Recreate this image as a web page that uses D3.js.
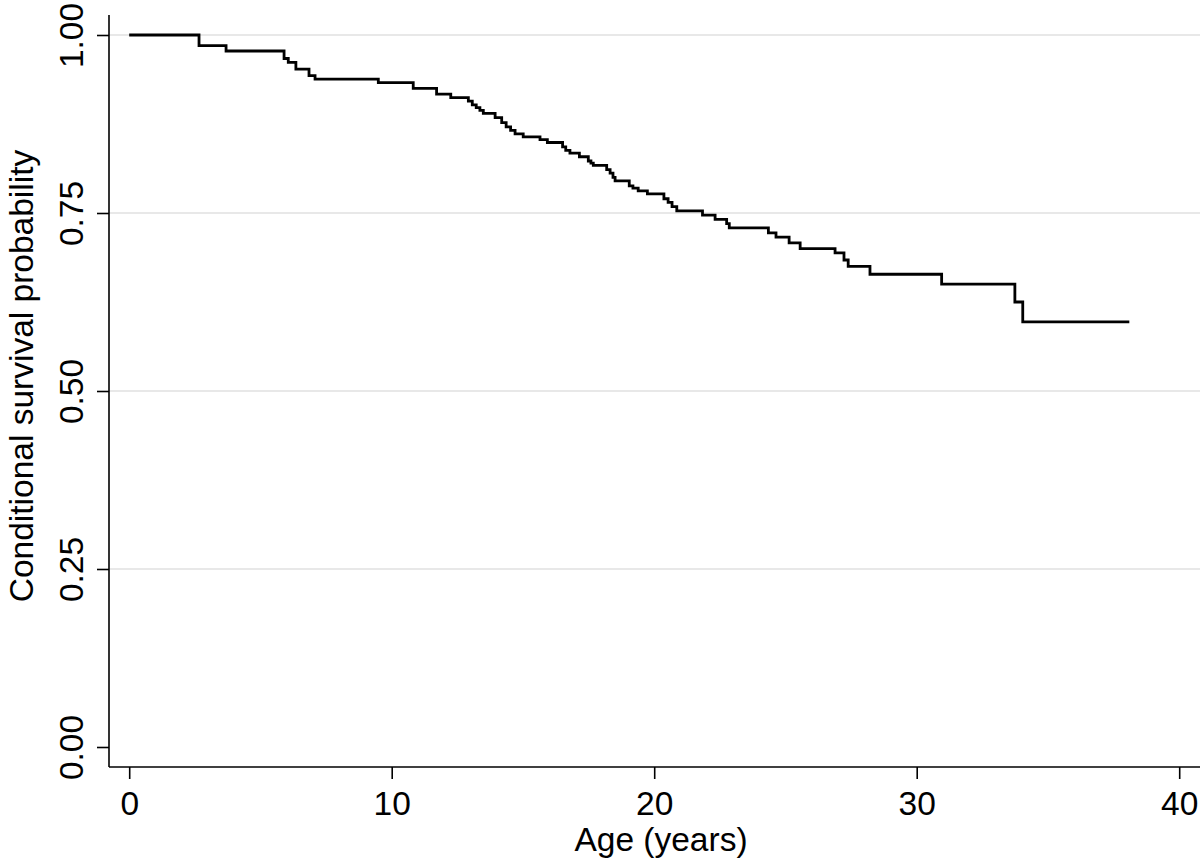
<!DOCTYPE html>
<html>
<head>
<meta charset="utf-8">
<script src="https://cdn.jsdelivr.net/npm/d3@7/dist/d3.min.js"></script>
<style>
  html, body { margin: 0; padding: 0; background: #fff; }
  svg { display: block; }
  text { font-family: "Liberation Sans", Arial, Helvetica, sans-serif; fill: #000; }
</style>
</head>
<body>
<svg id="chart" width="1200" height="861"></svg>
<script>
// Kaplan-Meier style step data (age in years, survival probability)
const ages = [0, 2.66, 3.69, 5.90, 6.06, 6.35, 6.85, 7.08, 9.49, 10.82, 11.71, 12.25,
  12.92, 13.07, 13.22, 13.36, 13.49, 13.94, 14.19, 14.36, 14.53, 14.70, 15.01, 15.65,
  15.93, 16.51, 16.63, 16.79, 17.15, 17.49, 17.59, 17.68, 18.19, 18.32, 18.43, 18.51,
  19.05, 19.19, 19.39, 19.74, 20.37, 20.53, 20.68, 20.86, 21.84, 22.32, 22.76, 22.86,
  24.35, 24.64, 25.14, 25.56, 26.89, 27.23, 27.39, 28.22, 30.95, 33.74, 34.04, 38.10];
const survival = [1.000, 0.985, 0.9775, 0.967, 0.9616, 0.952, 0.943, 0.938, 0.933, 0.925, 0.917, 0.912,
  0.907, 0.902, 0.898, 0.894, 0.890, 0.884, 0.877, 0.871, 0.866, 0.861, 0.857, 0.853,
  0.849, 0.843, 0.838, 0.834, 0.829, 0.823, 0.820, 0.817, 0.811, 0.806, 0.800, 0.795,
  0.788, 0.785, 0.781, 0.777, 0.770, 0.765, 0.759, 0.753, 0.747, 0.741, 0.735, 0.729,
  0.722, 0.716, 0.708, 0.700, 0.694, 0.684, 0.675, 0.664, 0.650, 0.625, 0.597, 0.597];
const xTicks = [0, 10, 20, 30, 40];
const yTicks = [0, 0.25, 0.5, 0.75, 1.0];
const yGrid = [0.25, 0.5, 0.75, 1.0];
const xTitle = "Age (years)";
const yTitle = "Conditional survival probability";

const svg = d3.select("#chart");
svg.append("rect").attr("width", 1200).attr("height", 861).attr("fill", "#fff");

const plotLeft = 109, plotRight = 1200, plotTop = 15, plotBottom = 767;
const x = d3.scaleLinear().domain([0, 40]).range([129.2, 1179.2]);
const y = d3.scaleLinear().domain([0, 1]).range([747, 35]);

// gridlines
svg.append("g").selectAll("line").data(yGrid).join("line")
  .attr("x1", plotLeft).attr("x2", plotRight)
  .attr("y1", d => y(d)).attr("y2", d => y(d))
  .attr("stroke", "#e8e8e8").attr("stroke-width", 2);

// y axis
const yAxis = d3.axisLeft(y).tickValues(yTicks).tickFormat(d3.format(".2f"))
  .tickSize(12).tickPadding(0);
const gy = svg.append("g").attr("transform", `translate(${plotLeft},0)`).call(yAxis);
gy.select(".domain").remove();
gy.append("line").attr("x1", 0).attr("x2", 0).attr("y1", plotTop).attr("y2", plotBottom)
  .attr("stroke", "#000").attr("stroke-width", 1.6);
gy.selectAll(".tick line").attr("stroke", "#000").attr("stroke-width", 1.6);
gy.selectAll(".tick text")
  .attr("x", 0).attr("y", 0).attr("dy", 0)
  .attr("text-anchor", "middle")
  .attr("transform", "translate(-26,0) rotate(-90)")
  .style("font-size", "33.5px").attr("font-family", null);

// x axis
const xAxis = d3.axisBottom(x).tickValues(xTicks).tickFormat(d3.format("d"))
  .tickSize(12).tickPadding(0);
const gx = svg.append("g").attr("transform", `translate(0,${plotBottom})`).call(xAxis);
gx.select(".domain").remove();
gx.append("line").attr("x1", plotLeft).attr("x2", plotRight).attr("y1", 0).attr("y2", 0)
  .attr("stroke", "#000").attr("stroke-width", 1.6);
gx.selectAll(".tick line").attr("stroke", "#000").attr("stroke-width", 1.6);
gx.selectAll(".tick text").attr("y", 48).attr("dy", 0)
  .style("font-size", "33.5px").attr("font-family", null);

// titles
svg.append("text").attr("x", 661).attr("y", 851).attr("text-anchor", "middle")
  .style("font-size", "33.5px").text(xTitle);
svg.append("text").attr("transform", "translate(33,376) rotate(-90)")
  .attr("text-anchor", "middle").style("font-size", "33.5px").text(yTitle);

// step curve
const pts = ages.map((a, i) => [a, survival[i]]);
const line = d3.line().x(d => x(d[0])).y(d => y(d[1])).curve(d3.curveStepAfter);
svg.append("path").datum(pts).attr("d", line)
  .attr("fill", "none").attr("stroke", "#000").attr("stroke-width", 2.8);
</script>
</body>
</html>
